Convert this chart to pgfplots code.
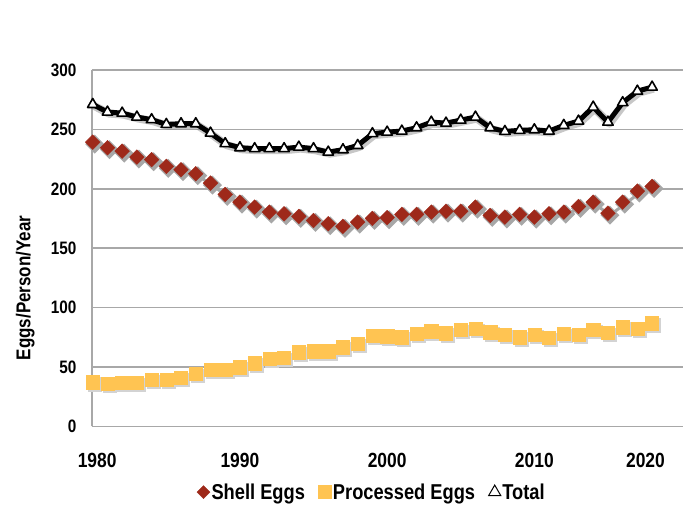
\documentclass[border=0pt]{standalone}
\usepackage{fontspec}
\setmainfont{Liberation Sans}[FakeStretch=0.85]
\usepackage{pgfplots}
\pgfplotsset{compat=1.18}
\usepackage{pgfplotstable}

\definecolor{shell}{RGB}{158,41,26}
\definecolor{proc}{RGB}{255,196,82}
\definecolor{gridc}{RGB}{168,168,168}
\definecolor{shadowc}{RGB}{130,130,130}

% eggs per person per year
\pgfplotstableread{
year total shell proc
1980 271.0 239.3 37.3
1981 264.6 234.6 35.9
1982 263.7 231.7 36.8
1983 260.4 226.7 36.8
1984 258.2 224.5 39.3
1985 254.2 218.9 39.3
1986 254.8 216.1 41.0
1987 254.8 212.7 44.4
1988 246.9 204.8 47.7
1989 238.0 195.3 47.7
1990 234.6 188.8 49.9
1991 233.8 184.6 53.3
1992 233.8 180.4 57.0
1993 233.8 179.0 57.8
1994 235.1 176.8 62.5
1995 233.8 173.4 63.4
1996 230.9 170.6 63.4
1997 232.9 168.4 66.8
1998 236.5 172.0 69.6
1999 246.4 175.1 76.6
2000 247.7 175.7 76.0
2001 248.6 178.5 75.2
2002 251.4 178.5 78.0
2003 256.1 180.4 80.2
2004 255.3 181.2 78.5
2005 257.8 181.2 81.4
2006 260.4 184.6 82.2
2007 251.4 177.6 79.4
2008 248.3 176.2 77.4
2009 249.2 178.5 75.2
2010 249.7 176.2 77.2
2011 248.6 179.0 74.7
2012 253.4 180.4 78.0
2013 257.0 185.2 77.4
2014 268.8 188.8 81.4
2015 256.1 179.5 78.9
2016 272.5 188.8 83.6
2017 282.2 198.1 82.2
2018 285.6 202.0 87.0
}\eggs

\begin{document}
\begin{tikzpicture}
\begin{axis}[
    at={(0,0)}, anchor=south west,
    scale only axis, width=591pt, height=356.5pt,
    xmin=1979.95, xmax=2020.1,
    ymin=0, ymax=300,
    ytick={0,50,...,300},
    xtick={1980.3,1990,2000,2010,2017.55},
    xticklabels={1980,1990,2000,2010,2020},
    axis x line*=bottom, axis y line*=left,
    axis line style={gridc, line width=1.5pt, -},
    ymajorgrids, grid style={gridc, line width=1.5pt},
    major tick length=0pt,
    clip=false,
    /pgf/number format/assume math mode=true,
    xticklabel style={font=\fontsize{20.5}{20.5}\selectfont\bfseries, anchor=center, yshift=-33.5pt},
    yticklabel style={font=\fontsize{18}{18}\selectfont\bfseries, anchor=east, inner sep=0pt, xshift=-15.5pt},
    ylabel={Eggs/Person/Year},
    ylabel style={font=\fontsize{20}{20}\selectfont\bfseries, at={(axis description cs:-0.113,0.3885)}, anchor=center},
    legend columns=3,
    legend cell align=left,
    legend image code/.code={\draw[#1, only marks] plot coordinates {(0pt,0pt)};},
    legend style={at={(axis description cs:0.473,-0.184)}, anchor=center,
        draw=none, fill=none, inner sep=0pt,
        font=\fontsize{21.5}{21.5}\selectfont\bfseries,
        nodes={inner sep=1.5pt},
        /tikz/every even column/.append style={column sep=12pt}},
]

% processed eggs
\addplot[forget plot, only marks, color=shadowc!35, xshift=2pt, yshift=-2pt, mark=square*, mark size=6.6pt,
    mark options={fill=shadowc!35, draw=none}] table[x=year, y=proc] {\eggs};
\addplot[forget plot, only marks, color=proc, mark=square*, mark size=6.6pt,
    mark options={fill=proc, draw=none}] table[x=year, y=proc] {\eggs};

% shell eggs
\addplot[forget plot, color=shadowc!70, line width=3pt, xshift=2pt, yshift=-2pt, mark=square*, mark size=5.2pt,
    mark options={rotate=45, fill=shadowc!70, draw=none}] table[x=year, y=shell] {\eggs};
\addplot[forget plot, only marks, color=shell, mark=square*, mark size=5.2pt,
    mark options={rotate=45, fill=shell, draw=none}] table[x=year, y=shell] {\eggs};

% total
\addplot[forget plot, color=shadowc, opacity=0.45, line width=8pt, line join=round, xshift=1.5pt, yshift=-1.5pt]
    table[x=year, y=total] {\eggs};
\addplot[forget plot, color=black, line width=5pt, line join=round, mark=triangle*, mark size=6pt,
    mark options={fill=white, draw=black, line width=1.6pt}] table[x=year, y=total] {\eggs};

\addlegendimage{color=shell, mark=square*, mark size=4.6pt, mark options={rotate=45, fill=shell, draw=none}}
\addlegendentry{Shell Eggs}
\addlegendimage{color=proc, mark=square*, mark size=6.5pt, mark options={fill=proc, draw=none}}
\addlegendentry{Processed Eggs}
\addlegendimage{color=black, mark=triangle, mark size=7pt, mark options={draw=black, line width=1pt}}
\addlegendentry{Total}
\end{axis}
\pgfresetboundingbox
\path (-92pt,-89.5pt) rectangle (601pt,426.5pt);
\end{tikzpicture}
\end{document}
